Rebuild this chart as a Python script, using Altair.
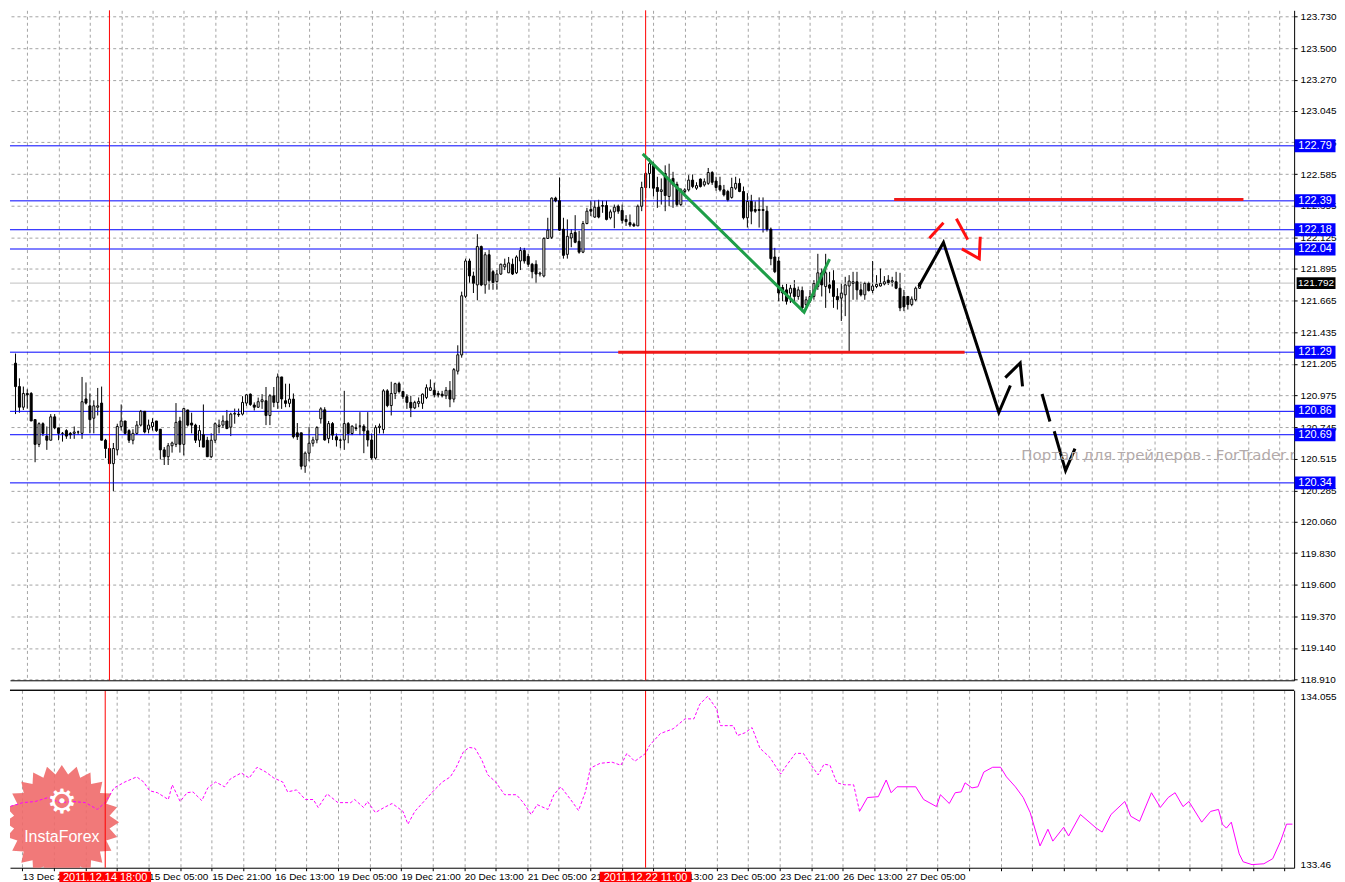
import math
import altair as alt
import pandas as pd

# ---------------- data ----------------
bar_open = [
    121.21, 121.04, 120.89, 120.99, 120.99, 120.80, 120.62, 120.77, 120.68, 120.65,
    120.82, 120.74, 120.70, 120.72, 120.70, 120.70, 120.71, 120.70, 120.95, 120.90,
    120.81, 120.89, 120.92, 120.65, 120.59, 120.48, 120.58, 120.75, 120.79, 120.72,
    120.65, 120.70, 120.76, 120.86, 120.73, 120.75, 120.79, 120.73, 120.58, 120.53,
    120.61, 120.62, 120.79, 120.62, 120.87, 120.775, 120.76, 120.65, 120.69, 120.65,
    120.53, 120.65, 120.75, 120.76, 120.79, 120.745, 120.84, 120.84, 120.84, 120.92,
    120.985, 120.906, 120.89, 120.93, 120.937, 120.83, 120.973, 120.925, 121.11, 120.937,
    120.918, 120.949, 120.704, 120.704, 120.461, 120.556, 120.628, 120.652, 120.806, 120.871,
    120.663, 120.771, 120.675, 120.652, 120.652, 120.771, 120.699, 120.74, 120.754, 120.752,
    120.718, 120.652, 120.521, 120.742, 120.728, 121.009, 120.902, 120.99, 121.061, 121.004,
    120.966, 120.925, 120.885, 120.918, 120.918, 120.961, 121.013, 121.013, 120.99, 120.985,
    120.973, 121.013, 120.949, 121.152, 121.27, 121.696, 121.953, 121.844, 121.779, 122.058,
    121.779, 121.998, 121.875, 121.803, 121.858, 121.91, 121.867, 121.929, 121.867, 121.953,
    122.029, 121.986, 121.929, 121.929, 121.858, 121.844, 122.117, 122.125, 122.41, 122.391,
    122.184, 122.001, 122.12, 122.16, 122.096, 122.017, 122.225, 122.327, 122.272, 122.344,
    122.356, 122.356, 122.267, 122.31, 122.351, 122.32, 122.255, 122.232, 122.22, 122.208,
    122.351, 122.487, 122.589, 122.648, 122.487, 122.458, 122.589, 122.422, 122.553, 122.51,
    122.363, 122.458, 122.47, 122.541, 122.482, 122.548, 122.506, 122.517, 122.596, 122.534,
    122.501, 122.47, 122.458, 122.415, 122.482, 122.517, 122.458, 122.267, 122.386, 122.327,
    122.327, 122.327, 122.315, 122.184, 121.982, 121.953, 121.76, 121.743, 121.719, 121.755,
    121.695, 121.738, 121.636, 121.66, 121.695, 121.767, 121.867, 121.767, 121.779, 121.81,
    121.695, 121.683, 121.707, 121.771, 121.79, 121.802, 121.743, 121.707, 121.79, 121.738,
    121.767, 121.771, 121.786, 121.814, 121.80, 121.802, 121.755, 121.695, 121.695, 121.636,
    121.671, 121.755,
]
bar_high = [
    121.28, 121.10, 121.04, 121.02, 121.00, 120.80, 120.78, 120.78, 120.75, 120.84,
    120.84, 120.74, 120.71, 120.73, 120.71, 120.75, 120.72, 121.11, 121.07, 120.99,
    120.94, 121.03, 121.04, 120.66, 120.63, 120.63, 120.77, 120.91, 120.79, 120.73,
    120.73, 120.79, 120.87, 120.86, 120.80, 120.81, 120.79, 120.73, 120.60, 120.63,
    120.64, 120.92, 120.82, 120.885, 120.87, 120.85, 120.77, 120.76, 120.91, 120.675,
    120.70, 120.78, 120.80, 120.83, 120.87, 120.85, 120.88, 120.88, 120.97, 120.985,
    120.99, 120.925, 120.96, 120.985, 121.037, 120.985, 121.037, 121.135, 121.11, 121.061,
    121.061, 120.99, 120.775, 120.704, 120.568, 120.747, 120.675, 120.752, 120.89, 120.89,
    120.79, 120.782, 120.699, 120.663, 121.009, 120.782, 120.759, 120.771, 120.854, 120.766,
    120.854, 120.699, 120.759, 120.771, 121.021, 121.021, 121.075, 121.068, 121.075, 121.009,
    120.985, 120.973, 120.937, 120.961, 120.99, 121.056, 121.092, 121.068, 121.009, 121.009,
    121.037, 121.08, 121.175, 121.34, 121.73, 121.97, 121.97, 121.875, 122.148, 122.065,
    122.017, 122.034, 121.887, 121.887, 121.934, 121.97, 121.982, 121.97, 121.994, 122.053,
    122.048, 122.006, 121.939, 121.958, 121.875, 122.125, 122.267, 122.415, 122.42, 122.56,
    122.267, 122.255, 122.184, 122.286, 122.172, 122.244, 122.339, 122.391, 122.391, 122.398,
    122.391, 122.391, 122.327, 122.363, 122.363, 122.363, 122.286, 122.291, 122.232, 122.363,
    122.529, 122.601, 122.70, 122.672, 122.565, 122.553, 122.648, 122.66, 122.601, 122.529,
    122.482, 122.482, 122.577, 122.582, 122.525, 122.553, 122.553, 122.629, 122.606, 122.565,
    122.565, 122.506, 122.47, 122.558, 122.565, 122.553, 122.494, 122.446, 122.434, 122.386,
    122.415, 122.415, 122.351, 122.196, 122.048, 121.982, 121.78, 121.786, 121.779, 121.814,
    121.767, 121.767, 121.695, 121.743, 121.814, 122.005, 121.898, 122.005, 121.874, 121.886,
    121.755, 121.79, 121.838, 121.85, 121.874, 121.874, 121.802, 121.802, 121.802, 121.953,
    121.85, 121.898, 121.843, 121.85, 121.838, 121.874, 121.867, 121.743, 121.695, 121.695,
    121.767, 121.80,
]
bar_low = [
    120.84, 120.85, 120.87, 120.88, 120.79, 120.49, 120.60, 120.68, 120.58, 120.65,
    120.73, 120.65, 120.64, 120.66, 120.66, 120.66, 120.69, 120.66, 120.91, 120.70,
    120.70, 120.83, 120.65, 120.52, 120.48, 120.28, 120.54, 120.72, 120.69, 120.63,
    120.62, 120.69, 120.75, 120.70, 120.70, 120.72, 120.71, 120.51, 120.47, 120.47,
    120.56, 120.60, 120.56, 120.54, 120.75, 120.70, 120.63, 120.60, 120.60, 120.53,
    120.52, 120.63, 120.70, 120.74, 120.73, 120.68, 120.77, 120.82, 120.83, 120.90,
    120.90, 120.866, 120.885, 120.878, 120.76, 120.76, 120.89, 120.878, 120.878, 120.89,
    120.89, 120.663, 120.652, 120.437, 120.413, 120.497, 120.604, 120.628, 120.771, 120.647,
    120.628, 120.652, 120.604, 120.592, 120.58, 120.628, 120.687, 120.718, 120.687, 120.556,
    120.604, 120.509, 120.509, 120.699, 120.699, 120.89, 120.83, 120.949, 120.99, 120.949,
    120.878, 120.818, 120.876, 120.89, 120.878, 120.949, 121.009, 120.961, 120.961, 120.961,
    120.949, 120.89, 120.925, 121.128, 121.25, 121.684, 121.791, 121.72, 121.667, 121.77,
    121.715, 121.744, 121.744, 121.744, 121.851, 121.887, 121.865, 121.851, 121.858, 121.887,
    121.934, 121.91, 121.827, 121.791, 121.84, 121.834, 122.113, 122.113, 122.38, 122.172,
    121.97, 121.97, 122.053, 122.082, 122.006, 122.01, 122.22, 122.279, 122.267, 122.263,
    122.303, 122.248, 122.255, 122.191, 122.296, 122.225, 122.208, 122.201, 122.201, 122.208,
    122.315, 122.41, 122.482, 122.422, 122.339, 122.363, 122.315, 122.351, 122.339, 122.351,
    122.351, 122.434, 122.458, 122.482, 122.47, 122.487, 122.494, 122.506, 122.506, 122.463,
    122.458, 122.422, 122.386, 122.406, 122.47, 122.453, 122.255, 122.196, 122.22, 122.303,
    122.196, 122.16, 122.167, 121.922, 121.865, 121.66, 121.66, 121.636, 121.648, 121.643,
    121.671, 121.581, 121.624, 121.648, 121.671, 121.743, 121.695, 121.612, 121.719, 121.612,
    121.60, 121.517, 121.552, 121.29, 121.671, 121.671, 121.695, 121.671, 121.731, 121.719,
    121.755, 121.767, 121.776, 121.779, 121.767, 121.748, 121.588, 121.588, 121.60, 121.624,
    121.66, 121.75,
]
bar_close = [
    121.04, 120.89, 120.99, 120.98, 120.79, 120.62, 120.77, 120.70, 120.65, 120.82,
    120.74, 120.70, 120.70, 120.68, 120.69, 120.71, 120.71, 120.93, 120.92, 120.80,
    120.90, 120.90, 120.65, 120.59, 120.48, 120.59, 120.75, 120.79, 120.70, 120.65,
    120.70, 120.76, 120.86, 120.71, 120.76, 120.78, 120.72, 120.58, 120.53, 120.61,
    120.63, 120.78, 120.62, 120.88, 120.76, 120.76, 120.65, 120.72, 120.60, 120.53,
    120.65, 120.77, 120.76, 120.79, 120.735, 120.84, 120.845, 120.835, 120.925, 120.98,
    120.91, 120.89, 120.93, 120.944, 120.83, 120.973, 120.925, 121.11, 120.95, 120.918,
    120.949, 120.675, 120.675, 120.461, 120.556, 120.628, 120.652, 120.742, 120.878, 120.652,
    120.771, 120.687, 120.652, 120.65, 120.771, 120.699, 120.752, 120.735, 120.752, 120.718,
    120.652, 120.521, 120.742, 120.752, 121.009, 120.902, 120.99, 121.061, 121.004, 120.966,
    120.925, 120.885, 120.925, 120.932, 120.985, 121.032, 121.032, 120.98, 120.98, 120.973,
    121.013, 120.949, 121.163, 121.271, 121.70, 121.953, 121.844, 121.791, 122.058, 121.779,
    121.998, 121.81, 121.796, 121.858, 121.929, 121.929, 121.939, 121.858, 121.982, 122.029,
    121.953, 121.929, 121.875, 121.858, 121.865, 122.117, 122.177, 122.41, 122.39, 122.177,
    121.994, 122.132, 122.153, 122.089, 122.017, 122.225, 122.315, 122.315, 122.344, 122.272,
    122.351, 122.255, 122.31, 122.344, 122.315, 122.248, 122.239, 122.215, 122.208, 122.351,
    122.487, 122.589, 122.66, 122.482, 122.458, 122.47, 122.429, 122.541, 122.506, 122.363,
    122.47, 122.47, 122.541, 122.494, 122.501, 122.494, 122.529, 122.596, 122.525, 122.487,
    122.47, 122.434, 122.398, 122.487, 122.517, 122.458, 122.267, 122.386, 122.315, 122.315,
    122.32, 122.32, 122.184, 121.97, 121.875, 121.72, 121.72, 121.66, 121.755, 121.695,
    121.743, 121.612, 121.671, 121.695, 121.79, 121.867, 121.779, 121.867, 121.755, 121.695,
    121.671, 121.719, 121.779, 121.807, 121.802, 121.743, 121.707, 121.79, 121.738, 121.771,
    121.783, 121.79, 121.802, 121.795, 121.81, 121.755, 121.612, 121.619, 121.636, 121.676,
    121.755, 121.792,
]

price_ticks = [123.73, 123.5, 123.27, 123.045, 122.815, 122.585, 122.355, 122.125,
               121.895, 121.665, 121.435, 121.205, 120.975, 120.745, 120.515, 120.285,
               120.06, 119.83, 119.6, 119.37, 119.14, 118.91]

level_prices = [122.79, 122.39, 122.18, 122.04, 121.29, 120.86, 120.69, 120.34]
level_labels = ["122.79", "122.39", "122.18", "122.04", "121.29", "120.86", "120.69", "120.34"]
last_price = [121.792]
last_label = ["121.792"]

red_level_price = [122.40, 121.29]
red_level_from = [224.5, 154.0]
red_level_to = [313.75, 242.5]

date_marker_index = [24, 161]
date_marker_label = ["2011.12.14 18:00", "2011.12.22 11:00"]

time_tick_index = [3, 19, 35, 51, 67, 83, 99, 115, 131, 147, 163, 179, 195, 211, 227]
time_tick_label = ["13 Dec 21:00", "14 Dec 13:00", "15 Dec 05:00", "15 Dec 21:00",
                   "16 Dec 13:00", "19 Dec 05:00", "19 Dec 21:00", "20 Dec 13:00",
                   "21 Dec 05:00", "21 Dec 21:00", "22 Dec 13:00", "23 Dec 05:00",
                   "23 Dec 21:00", "26 Dec 13:00", "27 Dec 05:00"]

green_x = [160.25, 201.5, 208.0]
green_y = [122.731, 121.581, 121.967]

black_seg = [0, 0, 0, 0, 1, 1, 1, 2, 2, 3, 3, 3]
black_x = [230.8, 237.1, 251.25, 254.2, 252.9, 256.7, 257.3, 262.3, 264.3, 265.4, 268.3, 270.7]
black_y = [121.767, 122.088, 120.851, 121.048, 121.105, 121.212, 121.041,
           120.986, 120.786, 120.715, 120.429, 120.589]

red_seg = [0, 0, 1, 1, 2, 2, 2]
red_x = [233.5, 237.1, 240.4, 243.3, 241.8, 246.25, 246.5]
red_y = [122.119, 122.231, 122.26, 122.108, 122.041, 121.969, 122.129]

watermark_text = ["Портал для трейдеров - ForTrader.ru"]
watermark_x = [257.0]
watermark_y = [120.54]

ind_dash_x = [
    0, 3.15, 6.25, 9.5, 12.5, 15.75, 19, 22, 24, 26.25,
    29, 32, 33.75, 35.25, 37.25, 40, 41, 43, 44.75, 46.25,
    48.5, 50, 52, 54.25, 55.75, 58.5, 60.5, 62.5, 64.75, 66.75,
    69, 70.25, 72.5, 74.75, 76.75, 78, 80.25, 83, 86.25, 87.25,
    89.5, 90.5, 92.5, 94.75, 96.75, 99.5, 100.75, 102.5, 105.25, 107.25,
    109.5, 111.5, 113, 114.75, 116.25, 117.75, 119.5, 121, 123, 125.25,
    128.25, 130, 132, 133.5, 136.25, 137.75, 139.5, 142, 144, 145.75,
    147, 149.5, 152.5, 154.75, 156.25, 158.25, 161, 162, 164.75, 168,
    171, 173.25, 174.75, 176.75, 179, 180, 183.25, 184.25, 186.25, 188,
    190, 192.5, 195.25, 196.75, 199, 201, 203, 204.75, 206.25, 207.75,
    209.5, 211.5, 213.75, 215.25,
]
ind_dash_v = [
    133.666, 133.679, 133.683, 133.697, 133.679, 133.683, 133.679, 133.655, 133.679, 133.731,
    133.752, 133.770, 133.752, 133.721, 133.714, 133.690, 133.742, 133.683, 133.714, 133.717,
    133.686, 133.731, 133.752, 133.735, 133.763, 133.784, 133.766, 133.804, 133.787, 133.766,
    133.752, 133.717, 133.724, 133.690, 133.690, 133.662, 133.710, 133.679, 133.679, 133.690,
    133.662, 133.683, 133.644, 133.662, 133.676, 133.648, 133.603, 133.648, 133.690, 133.721,
    133.752, 133.770, 133.804, 133.857, 133.874, 133.871, 133.829, 133.777, 133.752, 133.707,
    133.707, 133.679, 133.637, 133.672, 133.655, 133.707, 133.735, 133.690, 133.651, 133.717,
    133.801, 133.818, 133.822, 133.811, 133.853, 133.825, 133.853, 133.881, 133.923, 133.940,
    133.975, 133.975, 134.027, 134.055, 134.010, 133.951, 133.951, 133.916, 133.926, 133.944,
    133.871, 133.839, 133.780, 133.811, 133.853, 133.853, 133.811, 133.777, 133.815, 133.811,
    133.749, 133.742, 133.742, 133.648,
]
ind_solid_x = [
    215.25, 217.25, 220, 222, 223.25, 224.75, 227.25, 229.5, 231.5, 234.75,
    235.75, 238, 239.5, 241, 242, 243.75, 245.25, 246.75, 249, 251,
    252.5, 254.75, 256.75, 258.5, 261, 263, 264.25, 267, 268.25, 271.25,
    275.25, 276.75, 279, 282.5, 284, 286.25, 289.25, 291.5, 293.5, 295.25,
    297.25, 298.75, 302, 304.25, 306.25, 307.25, 308.25, 309.5, 311.5, 312.5,
    314.75, 317.75, 320, 322, 323.5, 325,
]
ind_solid_v = [
    133.648, 133.697, 133.700, 133.759, 133.714, 133.735, 133.735, 133.735, 133.690, 133.665,
    133.707, 133.676, 133.714, 133.717, 133.749, 133.731, 133.735, 133.787, 133.804, 133.804,
    133.770, 133.735, 133.697, 133.644, 133.526, 133.585, 133.543, 133.592, 133.561, 133.637,
    133.589, 133.575, 133.637, 133.683, 133.631, 133.613, 133.714, 133.662, 133.697, 133.714,
    133.665, 133.683, 133.610, 133.648, 133.655, 133.603, 133.589, 133.610, 133.498, 133.470,
    133.460, 133.463, 133.481, 133.543, 133.603, 133.603,
]
ind_ticks = [134.055, 133.46]

logo_x = [13.0]
logo_y = [133.61]
logo_gear_y = [133.678]
logo_text_y = [133.557]

# ---------------- layout / style ----------------
W, H1, H2 = 1288, 672, 178
GRID = "#a4a4a4"
FONT = "Liberation Sans"

xs = alt.Scale(domain=[-0.139, 325.426], nice=False, zero=False)
ys = alt.Scale(domain=[118.905, 123.775], nice=False, zero=False)
ys2 = alt.Scale(domain=[133.449, 134.076], nice=False, zero=False)
grid_x = list(range(3, 326, 8))

candles = pd.DataFrame({"idx": list(range(len(bar_open))), "open": bar_open,
                        "high": bar_high, "low": bar_low, "close": bar_close})
levels_df = pd.DataFrame({"price": level_prices, "label": level_labels})
last_df = pd.DataFrame({"price": last_price, "label": last_label})
red_lv = pd.DataFrame({"price": red_level_price, "x1": red_level_from, "x2": red_level_to})
dates_df = pd.DataFrame({"idx": date_marker_index, "label": date_marker_label})
green_df = pd.DataFrame({"x": green_x, "y": green_y, "o": range(len(green_x))})
black_df = pd.DataFrame({"seg": black_seg, "x": black_x, "y": black_y, "o": range(len(black_x))})
redf_df = pd.DataFrame({"seg": red_seg, "x": red_x, "y": red_y, "o": range(len(red_x))})
wm_df = pd.DataFrame({"x": watermark_x, "y": watermark_y, "t": watermark_text})
dash_df = pd.DataFrame({"x": ind_dash_x, "v": ind_dash_v, "o": range(len(ind_dash_x))})
solid_df = pd.DataFrame({"x": ind_solid_x, "v": ind_solid_v, "o": range(len(ind_solid_x))})
logo_df = pd.DataFrame({"x": logo_x, "y": logo_y, "gy": logo_gear_y, "ty": logo_text_y})


def X(field):
    return alt.X(field, scale=xs)


def Y(field):
    return alt.Y(field, scale=ys)


def Y2(field):
    return alt.Y(field, scale=ys2)


# ---------------- main price panel ----------------
x_axis_top = alt.Axis(values=grid_x, tickCount=200, grid=True, gridDash=[3, 3],
                      gridColor=GRID, labels=False, ticks=False, domain=True,
                      domainColor="black", title=None, zindex=0)
y_axis_top = alt.Axis(orient="right", values=price_ticks, tickCount=200, format=".3f",
                      grid=True, gridDash=[3, 3], gridColor=GRID, tickSize=3,
                      tickColor="black", labelPadding=3, domainColor="black",
                      labelColor="black", labelFont=FONT, labelFontSize=10, title=None,
                      zindex=0, labelOverlap=False, labelSeparation=0)

wicks = alt.Chart(candles).mark_rule(color="black", strokeWidth=1).encode(
    x=alt.X("idx:Q", scale=xs, axis=x_axis_top),
    y=alt.Y("low:Q", scale=ys, axis=y_axis_top),
    y2="high:Q")
level_lines = alt.Chart(levels_df).mark_rule(color="#0000ff", strokeWidth=1).encode(
    y=Y("price:Q"))
last_line = alt.Chart(last_df).mark_rule(color="#c0c0c0", strokeWidth=1).encode(
    y=Y("price:Q"))
vlines_top = alt.Chart(dates_df).mark_rule(color="#ff0000", strokeWidth=1).encode(
    x=X("idx:Q"))
red_levels = alt.Chart(red_lv).mark_rule(color="#f01818", strokeWidth=3).encode(
    x=X("x1:Q"), x2="x2:Q", y=Y("price:Q"))
bodies = alt.Chart(candles).mark_bar(size=2, stroke="black", strokeWidth=1).encode(
    x=X("idx:Q"), y=Y("open:Q"), y2="close:Q",
    fill=alt.condition("datum.close >= datum.open", alt.value("white"), alt.value("black")))
green = alt.Chart(green_df).mark_line(color="#1e9e48", strokeWidth=3).encode(
    x=X("x:Q"), y=Y("y:Q"), order="o:Q")
black_fc = alt.Chart(black_df).mark_line(color="black", strokeWidth=3).encode(
    x=X("x:Q"), y=Y("y:Q"), detail="seg:N", order="o:Q")
red_fc = alt.Chart(redf_df).mark_line(color="#ff1010", strokeWidth=3).encode(
    x=X("x:Q"), y=Y("y:Q"), detail="seg:N", order="o:Q")
watermark = alt.Chart(wm_df).mark_text(align="left", baseline="middle", fontSize=15,
                                       font="DejaVu Sans", color="#b3aaaa", clip=True).encode(
    x=X("x:Q"), y=Y("y:Q"), text="t:N")
lvl_box = alt.Chart(levels_df).mark_tick(orient="horizontal", size=41, thickness=13,
                                         color="#0000ff", opacity=1).encode(
    y=Y("price:Q"), x=alt.value(W + 21))
lvl_txt = alt.Chart(levels_df).mark_text(color="white", fontSize=11, font=FONT,
                                         align="center", baseline="middle").encode(
    y=Y("price:Q"), x=alt.value(W + 21), text="label:N")
last_box = alt.Chart(last_df).mark_tick(orient="horizontal", size=39, thickness=12,
                                        color="black", opacity=1).encode(
    y=Y("price:Q"), x=alt.value(W + 22))
last_txt = alt.Chart(last_df).mark_text(color="white", fontSize=10, font=FONT,
                                        align="center", baseline="middle").encode(
    y=Y("price:Q"), x=alt.value(W + 22), text="label:N")

top = alt.layer(wicks, level_lines, last_line, red_levels, bodies, vlines_top,
                green, black_fc, red_fc, watermark, lvl_box, lvl_txt, last_box,
                last_txt).properties(width=W, height=H1)

# ---------------- lower indicator panel ----------------
expr = "''"
for i, lab in zip(reversed(time_tick_index), reversed(time_tick_label)):
    expr = f"datum.value == {i} ? '{lab}' : " + expr

x_axis_bot = alt.Axis(values=grid_x, tickCount=200, grid=True, gridDash=[3, 3],
                      gridColor=GRID, labelExpr=expr, labelAlign="left",
                      labelBaseline="top", labelFont=FONT, labelFontSize=10,
                      labelColor="black", labelPadding=1, tickSize=3, tickColor="black",
                      domainColor="black", title=None, zindex=0,
                      labelOverlap=False, labelFlush=False, labelSeparation=0)
y_axis_bot = alt.Axis(orient="right", values=ind_ticks, tickCount=50,
                      labelExpr="'' + datum.value", grid=False, ticks=False,
                      labelPadding=6, domainColor="black", labelColor="black",
                      labelFont=FONT, labelFontSize=10, title=None, zindex=0,
                      labelOverlap=False)

n = 24
pts = []
for k in range(2 * n):
    r = 1.0 if k % 2 == 0 else 0.84
    a = math.pi * k / n - math.pi / 2
    pts.append(f"{r * math.cos(a):.3f},{r * math.sin(a):.3f}")
star_path = "M" + " L".join(pts) + " Z"

star = alt.Chart(logo_df).mark_point(shape=star_path, size=13200, filled=True,
                                     color="#f06a6a", opacity=0.9, strokeWidth=0,
                                     clip=True).encode(
    x=alt.X("x:Q", scale=xs, axis=x_axis_bot),
    y=alt.Y("y:Q", scale=ys2, axis=y_axis_bot))
gear = alt.Chart(logo_df).mark_text(text="⚙", font="DejaVu Sans", fontSize=34,
                                    color="white", baseline="middle").encode(
    x=X("x:Q"), y=Y2("gy:Q"))
brand = alt.Chart(logo_df).mark_text(text="InstaForex", font=FONT, fontSize=16,
                                     color="white", baseline="middle").encode(
    x=X("x:Q"), y=Y2("ty:Q"))
ind_dash = alt.Chart(dash_df).mark_line(color="#ff00ff", strokeWidth=1,
                                        strokeDash=[3, 2]).encode(
    x=X("x:Q"), y=Y2("v:Q"), order="o:Q")
ind_solid = alt.Chart(solid_df).mark_line(color="#ff00ff", strokeWidth=1).encode(
    x=X("x:Q"), y=Y2("v:Q"), order="o:Q")
vlines_bot = alt.Chart(dates_df).mark_rule(color="#ff0000", strokeWidth=1).encode(
    x=X("idx:Q"))
top_border = alt.Chart(dates_df).mark_rule(color="black", strokeWidth=1).encode(
    x=alt.value(0), x2=alt.value(W), y=alt.value(0))
date_box = alt.Chart(dates_df).mark_tick(orient="horizontal", size=92, thickness=12,
                                         color="#ff0000", opacity=1).encode(
    x=X("idx:Q"), y=alt.value(H2 + 10))
date_txt = alt.Chart(dates_df).mark_text(color="white", fontSize=11, font=FONT,
                                         align="center", baseline="middle").encode(
    x=X("idx:Q"), y=alt.value(H2 + 10), text="label:N")

bottom = alt.layer(star, ind_dash, ind_solid, gear, brand, vlines_bot, top_border,
                   date_box, date_txt).properties(width=W, height=H2)

chart = alt.vconcat(top, bottom, spacing=4).properties(
    padding=0, background="white"
).configure_view(stroke=None).configure_axis(
    labelOverlap=False, labelSeparation=0
).resolve_scale(y="independent")

chart.save("out.html", embed_options={"renderer": "svg", "actions": False})
